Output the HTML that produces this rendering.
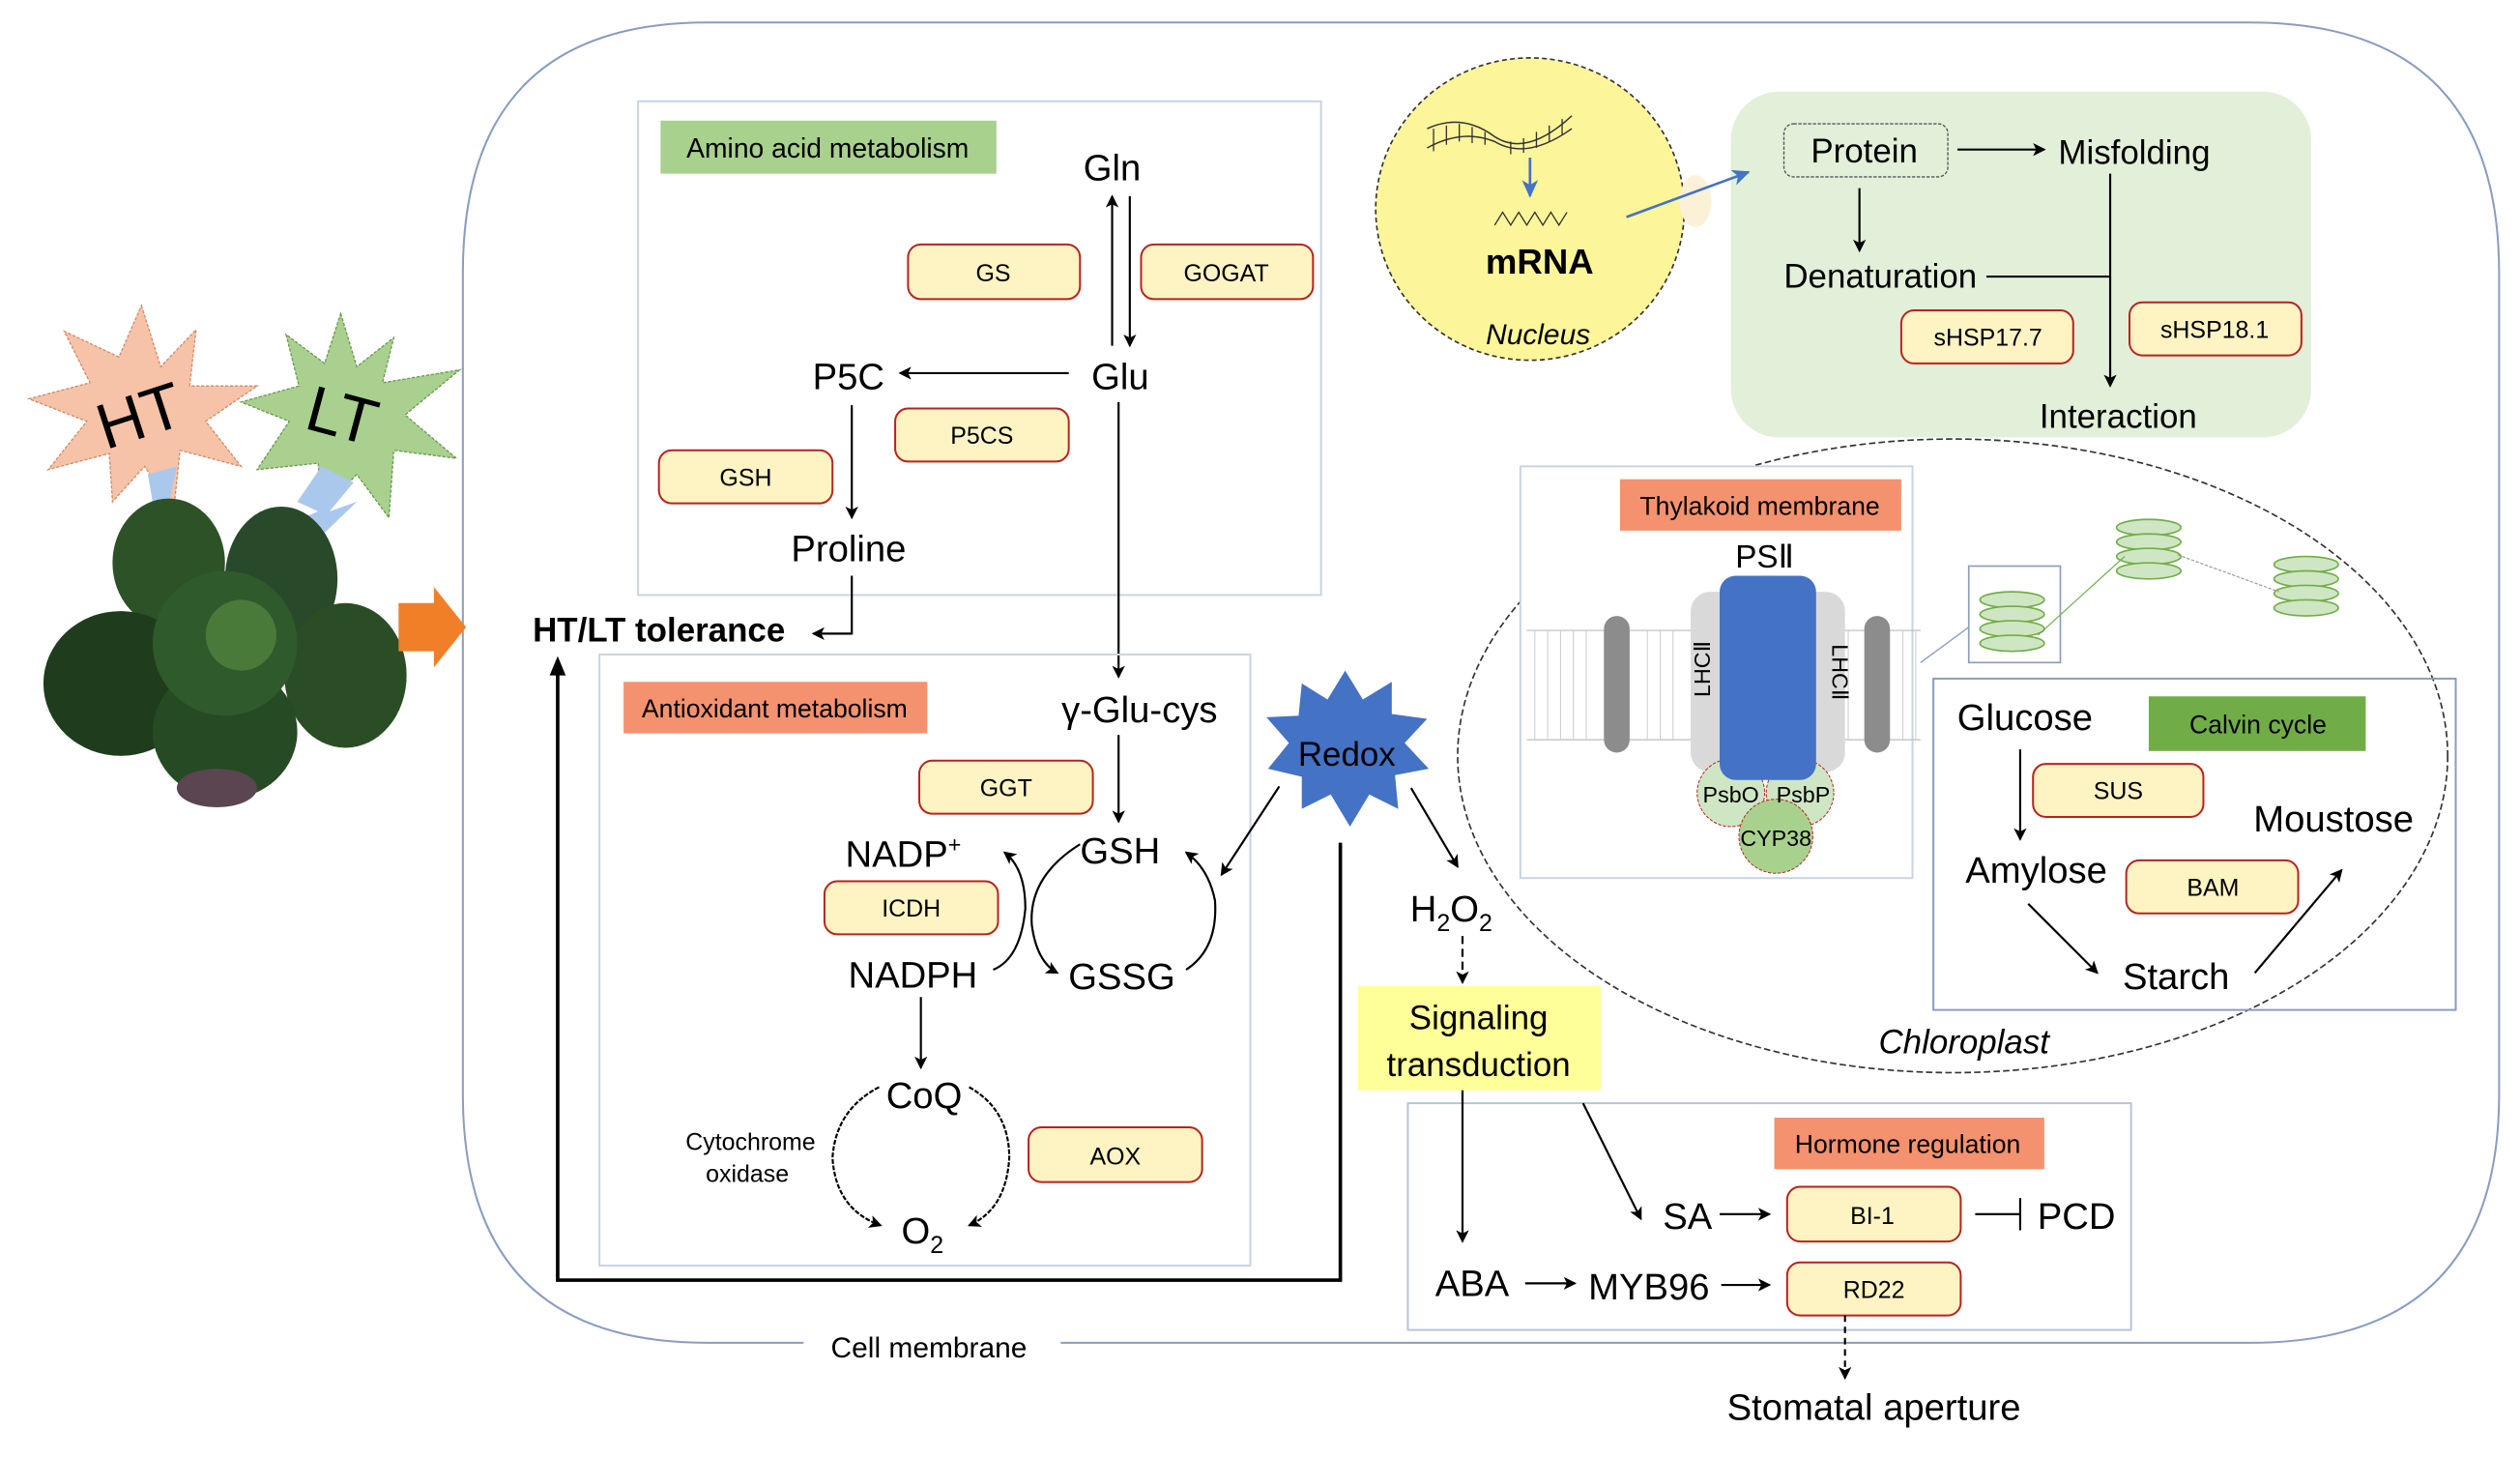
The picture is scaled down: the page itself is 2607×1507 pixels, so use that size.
<!DOCTYPE html>
<html><head><meta charset="utf-8"><style>
html,body{margin:0;padding:0;background:#fff;}
svg{display:block;}
text{font-family:"Liberation Sans",Arial,sans-serif;fill:#000;}
.e{fill:#fdf3c3;stroke:#b8221e;stroke-width:1.2;}
.et{font-size:15px;text-anchor:middle;}
.big{font-size:23px;text-anchor:middle;}
.ln{stroke:#000;stroke-width:1.3;fill:none;}
</style></head><body>
<svg width="2607" height="1507" viewBox="0 0 1568 906" preserveAspectRatio="none" xmlns="http://www.w3.org/2000/svg">
<defs>
<marker id="a" markerWidth="8" markerHeight="8" refX="7" refY="4" orient="auto" markerUnits="userSpaceOnUse"><path d="M0,0 L8,4 L0,8 L2,4z" fill="#000"/></marker>
<marker id="b" markerWidth="12" markerHeight="12" refX="10" refY="6" orient="auto" markerUnits="userSpaceOnUse"><path d="M0,1 L11,6 L0,11 L3,6z" fill="#4472c4"/></marker>
</defs>
<!-- cell membrane -->
<path d="M500,835 L440,835 Q288,835 288,680 L288,170 Q288,14 440,14 L1400,14 Q1555,14 1555,170 L1555,680 Q1555,835 1400,835 L660,835" fill="none" stroke="#8a9cc0" stroke-width="1.2"/>
<text x="578" y="844" font-size="18" text-anchor="middle">Cell membrane</text>

<!-- plant -->
<g>
<polygon points="88,190 100,228 122,205 118,240 160,240 128,262 150,290 112,280 108,318 90,290 70,312 68,282 30,292 54,262 18,248 56,238 40,206 74,222" fill="#f6c3a8" stroke="#d08c6a" stroke-width="0.8" stroke-dasharray="2,1"/>
<text x="88" y="272" font-size="40" text-anchor="middle" transform="rotate(-18 88 262)">HT</text>
<polygon points="212,195 222,228 245,210 238,238 286,230 252,258 284,285 245,280 242,322 222,295 200,318 198,288 160,292 180,262 150,250 186,240 178,208 202,226" fill="#a9d08e" stroke="#6a9a50" stroke-width="0.8" stroke-dasharray="2,1"/>
<text x="212" y="272" font-size="40" text-anchor="middle" transform="rotate(15 212 262)">LT</text>
<polygon points="92,295 110,290 104,318 118,312 100,330 88,322 96,318" fill="#a9c8ec"/>
<polygon points="200,290 220,300 205,318 222,312 195,338 188,322 198,318 185,312" fill="#a9c8ec"/>
<ellipse cx="105" cy="350" rx="35" ry="40" fill="#2d5228"/>
<ellipse cx="175" cy="360" rx="35" ry="45" fill="#28492a"/>
<ellipse cx="75" cy="425" rx="48" ry="45" fill="#1f3d1c"/>
<ellipse cx="215" cy="420" rx="38" ry="45" fill="#2a4d26"/>
<ellipse cx="140" cy="455" rx="45" ry="42" fill="#264a24"/>
<ellipse cx="140" cy="400" rx="45" ry="45" fill="#2f5a2b"/>
<ellipse cx="150" cy="395" rx="22" ry="22" fill="#4a7a3a"/>
<ellipse cx="135" cy="490" rx="25" ry="12" fill="#5a4550"/>
<polygon points="248,375 270,375 270,365 290,390 270,415 270,405 248,405" fill="#f07f28"/>
</g>

<!-- amino acid -->
<rect x="397" y="63" width="425" height="307" fill="none" stroke="#c9d3e3" stroke-width="1.2"/>
<rect x="411" y="75" width="209" height="33" fill="#a9d18e"/>
<text x="515" y="98" font-size="17" text-anchor="middle">Amino acid metabolism</text>
<text x="692" y="112" class="big">Gln</text>
<line x1="692" y1="215" x2="692" y2="122" class="ln" marker-end="url(#a)"/>
<line x1="703" y1="122" x2="703" y2="215" class="ln" marker-end="url(#a)"/>
<rect x="565" y="152" width="107" height="34" rx="8" class="e"/><text x="618" y="175" class="et">GS</text>
<rect x="710" y="152" width="107" height="34" rx="8" class="e"/><text x="763" y="175" class="et">GOGAT</text>
<text x="697" y="242" class="big">Glu</text>
<text x="528" y="242" class="big">P5C</text>
<line x1="665" y1="232" x2="560" y2="232" class="ln" marker-end="url(#a)"/>
<rect x="557" y="254" width="108" height="33" rx="8" class="e"/><text x="611" y="276" class="et">P5CS</text>
<rect x="410" y="280" width="108" height="33" rx="8" class="e"/><text x="464" y="302" class="et">GSH</text>
<line x1="530" y1="252" x2="530" y2="322" class="ln" marker-end="url(#a)"/>
<text x="528" y="349" class="big">Proline</text>
<polyline points="530,358 530,394 506,394" class="ln" marker-end="url(#a)"/>
<text x="410" y="399" font-size="21" font-weight="bold" text-anchor="middle">HT/LT tolerance</text>
<line x1="696" y1="250" x2="696" y2="421" class="ln" marker-end="url(#a)"/>

<!-- antioxidant -->
<rect x="373" y="407" width="405" height="380" fill="none" stroke="#c9d3e3" stroke-width="1.2"/>
<rect x="388" y="424" width="189" height="32" fill="#f4926f"/>
<text x="482" y="446" font-size="16" text-anchor="middle">Antioxidant metabolism</text>
<text x="709" y="449" class="big">γ-Glu-cys</text>
<rect x="572" y="473" width="108" height="33" rx="8" class="e"/><text x="626" y="495" class="et">GGT</text>
<line x1="696" y1="457" x2="696" y2="511" class="ln" marker-end="url(#a)"/>
<text x="697" y="537" class="big">GSH</text>
<text x="562" y="539" class="big">NADP<tspan font-size="14" dy="-9">+</tspan></text>
<rect x="513" y="548" width="108" height="33" rx="8" class="e"/><text x="567" y="570" class="et">ICDH</text>
<text x="568" y="614" class="big">NADPH</text>
<text x="698" y="615" class="big">GSSG</text>
<path d="M618,603 Q635,596 638,565 Q638,540 625,530" class="ln" stroke-width="1" marker-end="url(#a)"/>
<path d="M672,525 Q640,545 642,575 Q645,598 658,605" class="ln" stroke-width="1" marker-end="url(#a)"/>
<path d="M738,603 Q758,590 756,560 Q752,540 738,530" class="ln" stroke-width="1" marker-end="url(#a)"/>
<line x1="573" y1="620" x2="573" y2="664" class="ln" marker-end="url(#a)"/>
<text x="575" y="689" class="big">CoQ</text>
<rect x="640" y="701" width="108" height="34" rx="8" class="e"/><text x="694" y="724" class="et">AOX</text>
<text x="467" y="715" font-size="15" text-anchor="middle">Cytochrome</text>
<text x="465" y="735" font-size="15" text-anchor="middle">oxidase</text>
<text x="574" y="773" class="big">O<tspan font-size="15" dy="6">2</tspan></text>
<path d="M547,676 Q520,690 518,720 Q520,752 548,762" class="ln" stroke-width="1" stroke-dasharray="3,1" marker-end="url(#a)"/>
<path d="M603,676 Q628,690 628,720 Q626,752 603,762" class="ln" stroke-width="1" stroke-dasharray="3,1" marker-end="url(#a)"/>
<polyline points="834,524 834,796 347,796 347,414" fill="none" stroke="#000" stroke-width="2.2"/>
<path d="M342,420 L347,408 L352,420z" fill="#000"/>

<!-- Redox -->
<polygon points="837,417 848,435 866,424 866,444 888,447 874,462 889,478 868,482 870,503 852,494 840,514 828,494 810,503 810,483 789,478 802,462 788,446 808,445 810,425 826,435" fill="#4472c4"/>
<text x="838" y="476" font-size="21" text-anchor="middle" fill="#000">Redox</text>
<line x1="796" y1="489" x2="760" y2="544" class="ln" stroke-width="1.5" marker-end="url(#a)"/>
<line x1="878" y1="490" x2="907" y2="539" class="ln" stroke-width="1.5" marker-end="url(#a)"/>
<text x="903" y="573" class="big">H<tspan font-size="15" dy="6">2</tspan><tspan dy="-6">O</tspan><tspan font-size="15" dy="6">2</tspan></text>
<line x1="910" y1="582" x2="910" y2="611" class="ln" stroke-dasharray="5,3" marker-end="url(#a)"/>
<rect x="845" y="613" width="151" height="65" fill="#ffff99"/>
<text x="920" y="640" font-size="21" text-anchor="middle">Signaling</text>
<text x="920" y="669" font-size="21" text-anchor="middle">transduction</text>

<!-- hormone -->
<rect x="876" y="686" width="450" height="141" fill="none" stroke="#b8c4da" stroke-width="1.2"/>
<rect x="1104" y="695" width="168" height="32" fill="#f4926f"/>
<text x="1187" y="717" font-size="16" text-anchor="middle">Hormone regulation</text>
<line x1="910" y1="678" x2="910" y2="772" class="ln" stroke-width="1.5" marker-end="url(#a)"/>
<line x1="985" y1="686" x2="1021" y2="758" class="ln" stroke-width="1.3" marker-end="url(#a)"/>
<text x="1050" y="764" class="big">SA</text>
<line x1="1070" y1="755" x2="1101" y2="755" class="ln" stroke-width="1.6" marker-end="url(#a)"/>
<rect x="1112" y="738" width="108" height="34" rx="8" class="e"/><text x="1165" y="761" class="et">BI-1</text>
<line x1="1229" y1="755" x2="1257" y2="755" class="ln" stroke-width="1.6"/>
<line x1="1257" y1="745" x2="1257" y2="765" class="ln" stroke-width="1.6"/>
<text x="1292" y="764" class="big">PCD</text>
<text x="916" y="806" class="big">ABA</text>
<line x1="949" y1="798" x2="980" y2="798" class="ln" stroke-width="1.6" marker-end="url(#a)"/>
<text x="1026" y="808" class="big">MYB96</text>
<line x1="1071" y1="799" x2="1101" y2="799" class="ln" stroke-width="1.6" marker-end="url(#a)"/>
<rect x="1112" y="785" width="108" height="33" rx="8" class="e"/><text x="1166" y="807" class="et">RD22</text>
<line x1="1148" y1="818" x2="1148" y2="857" class="ln" stroke-dasharray="4,3" marker-end="url(#a)"/>
<text x="1166" y="883" class="big">Stomatal aperture</text>

<!-- nucleus -->
<ellipse cx="952" cy="130" rx="96" ry="94" fill="#fdf59a" stroke="#333" stroke-width="1" stroke-dasharray="3,2"/>
<path d="M888,80 Q910,70 930,85 Q950,98 978,72 M888,92 Q910,80 930,88 Q950,100 978,80" fill="none" stroke="#333" stroke-width="0.9"/>
<path d="M892,80 L892,94 M900,78 L900,90 M908,77 L908,88 M916,79 L916,89 M924,82 L924,90 M940,88 L940,96 M948,86 L948,95 M956,82 L956,92 M964,78 L964,88 M972,74 L972,84" stroke="#333" stroke-width="0.8"/>
<line x1="952" y1="98" x2="952" y2="122" stroke="#4472c4" stroke-width="1.6" marker-end="url(#b)"/>
<path d="M930,140 l5,-8 l5,8 l5,-8 l5,8 l5,-8 l5,8 l5,-8 l5,8 l5,-8" fill="none" stroke="#333" stroke-width="0.8"/>
<text x="958" y="170" font-size="22" font-weight="bold" text-anchor="middle">mRNA</text>
<text x="957" y="214" font-size="18" font-style="italic" text-anchor="middle">Nucleus</text>
<ellipse cx="1055" cy="125" rx="10" ry="16" fill="#fbf1d6"/>

<!-- protein -->
<rect x="1077" y="57" width="361" height="215" rx="30" fill="#e2efd9"/>
<line x1="1012" y1="135" x2="1088" y2="107" stroke="#4472c4" stroke-width="1.6" marker-end="url(#b)"/>
<rect x="1110" y="77" width="102" height="33" rx="6" fill="none" stroke="#555" stroke-width="0.8" stroke-dasharray="2,1"/>
<text x="1160" y="101" font-size="21" text-anchor="middle">Protein</text>
<line x1="1218" y1="93" x2="1272" y2="93" class="ln" marker-end="url(#a)"/>
<text x="1328" y="102" font-size="21" text-anchor="middle">Misfolding</text>
<line x1="1157" y1="117" x2="1157" y2="156" class="ln" marker-end="url(#a)"/>
<text x="1170" y="179" font-size="21" text-anchor="middle">Denaturation</text>
<line x1="1236" y1="172" x2="1313" y2="172" class="ln"/>
<line x1="1313" y1="108" x2="1313" y2="240" class="ln" marker-end="url(#a)"/>
<rect x="1183" y="193" width="107" height="33" rx="8" class="e"/><text x="1237" y="215" class="et">sHSP17.7</text>
<rect x="1325" y="188" width="107" height="33" rx="8" class="e"/><text x="1378" y="210" class="et">sHSP18.1</text>
<text x="1318" y="266" font-size="21" text-anchor="middle">Interaction</text>

<!-- chloroplast -->
<ellipse cx="1215" cy="470" rx="308" ry="197" fill="none" stroke="#333" stroke-width="1" stroke-dasharray="4,2"/>
<rect x="946" y="290" width="244" height="256" fill="#fff" stroke="#c9d3e3" stroke-width="1.2"/>
<rect x="1008" y="298" width="175" height="32" fill="#f4926f"/>
<text x="1095" y="320" font-size="16" text-anchor="middle">Thylakoid membrane</text>
<text x="1098" y="353" font-size="20" text-anchor="middle">PSⅡ</text>
<g stroke="#bbb" stroke-width="0.7" fill="#fff">
<line x1="950" y1="392" x2="1195" y2="392"/><line x1="950" y1="460" x2="1195" y2="460"/>
</g>
<g fill="none" stroke="#ccc" stroke-width="0.6">
<path d="M955,392 V460 M963,392 V460 M971,392 V460 M979,392 V460 M987,392 V460 M1025,392 V460 M1033,392 V460 M1041,392 V460 M1150,392 V460 M1184,392 V460 M1192,392 V460"/>
</g>
<rect x="998" y="383" width="16" height="85" rx="8" fill="#8c8c8c"/>
<rect x="1160" y="383" width="16" height="85" rx="8" fill="#8c8c8c"/>
<rect x="1052" y="368" width="96" height="112" rx="12" fill="#d9d9d9"/>
<circle cx="1077" cy="493" r="21" fill="#cfe6c4" stroke="#b8221e" stroke-width="0.6" stroke-dasharray="2,1"/>
<circle cx="1120" cy="493" r="21" fill="#cfe6c4" stroke="#b8221e" stroke-width="0.6" stroke-dasharray="2,1"/>
<circle cx="1105" cy="520" r="23" fill="#a9d18e" stroke="#b8221e" stroke-width="0.6" stroke-dasharray="2,1"/>
<rect x="1070" y="358" width="60" height="127" rx="10" fill="#4472c4"/>
<text x="1070" y="422" font-size="14" text-anchor="middle" transform="rotate(-90 1064 422)">LHCⅡ</text>
<text x="1136" y="422" font-size="14" text-anchor="middle" transform="rotate(90 1140 422)">LHCⅡ</text>
<text x="1077" y="499" font-size="14" text-anchor="middle">PsbO</text>
<text x="1122" y="499" font-size="14" text-anchor="middle">PsbP</text>
<text x="1105" y="526" font-size="14" text-anchor="middle">CYP38</text>
<line x1="1195" y1="412" x2="1225" y2="390" stroke="#8a9cc0" stroke-width="0.8"/>
<rect x="1225" y="352" width="57" height="60" fill="#fff" stroke="#8a9cc0" stroke-width="1"/>
<g fill="#cfe6c4" stroke="#70ad47" stroke-width="1">
<ellipse cx="1252" cy="373" rx="20" ry="5"/><ellipse cx="1252" cy="382" rx="20" ry="5"/><ellipse cx="1252" cy="391" rx="20" ry="5"/><ellipse cx="1252" cy="400" rx="20" ry="5"/>
<ellipse cx="1337" cy="328" rx="20" ry="5"/><ellipse cx="1337" cy="337" rx="20" ry="5"/><ellipse cx="1337" cy="346" rx="20" ry="5"/><ellipse cx="1337" cy="355" rx="20" ry="5"/>
<ellipse cx="1435" cy="351" rx="20" ry="5"/><ellipse cx="1435" cy="360" rx="20" ry="5"/><ellipse cx="1435" cy="369" rx="20" ry="5"/><ellipse cx="1435" cy="378" rx="20" ry="5"/>
</g>
<line x1="1268" y1="395" x2="1322" y2="346" stroke="#70ad47" stroke-width="0.7"/>
<line x1="1355" y1="345" x2="1418" y2="368" stroke="#999" stroke-width="0.7" stroke-dasharray="2,1"/>
<rect x="1203" y="422" width="325" height="206" fill="none" stroke="#8a9cc0" stroke-width="1.2"/>
<rect x="1337" y="433" width="135" height="34" fill="#70ad47"/>
<text x="1405" y="456" font-size="16" text-anchor="middle">Calvin cycle</text>
<text x="1260" y="454" class="big">Glucose</text>
<line x1="1257" y1="466" x2="1257" y2="522" class="ln" marker-end="url(#a)"/>
<rect x="1265" y="475" width="106" height="33" rx="8" class="e"/><text x="1318" y="497" class="et">SUS</text>
<text x="1452" y="517" class="big">Moustose</text>
<text x="1267" y="549" class="big">Amylose</text>
<rect x="1323" y="535" width="107" height="33" rx="8" class="e"/><text x="1377" y="557" class="et">BAM</text>
<line x1="1262" y1="562" x2="1305" y2="605" class="ln" stroke-width="1.6" marker-end="url(#a)"/>
<text x="1354" y="615" class="big">Starch</text>
<line x1="1403" y1="605" x2="1457" y2="541" class="ln" stroke-width="1.6" marker-end="url(#a)"/>
<text x="1222" y="655" font-size="21" font-style="italic" text-anchor="middle">Chloroplast</text>
</svg>
</body></html>
